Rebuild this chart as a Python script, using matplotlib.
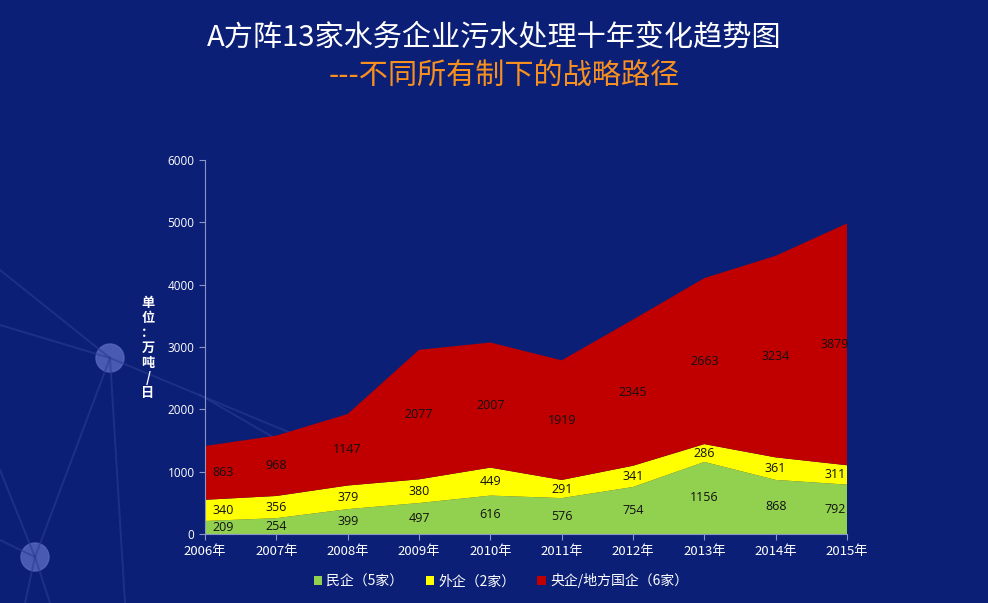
import matplotlib
matplotlib.use("Agg")
import matplotlib.pyplot as plt
from matplotlib.patches import Circle, Patch
import numpy as np

plt.rcParams['font.family'] = ['Noto Sans CJK SC', 'DejaVu Sans']

years = ['2006年', '2007年', '2008年', '2009年', '2010年', '2011年', '2012年', '2013年', '2014年', '2015年']
private = [209, 254, 399, 497, 616, 576, 754, 1156, 868, 792]
foreign = [340, 356, 379, 380, 449, 291, 341, 286, 361, 311]
state = [863, 968, 1147, 2077, 2007, 1919, 2345, 2663, 3234, 3879]
series_names = ['民企（5家）', '外企（2家）', '央企/地方国企（6家）']
colors = ['#92d050', '#ffff00', '#c00000']
bg = '#0c1f76'

W, H = 988, 603
fig = plt.figure(figsize=(W / 100, H / 100), dpi=100, facecolor=bg)

# decorative background network
deco = fig.add_axes([0, 0, 1, 1], zorder=-5)
deco.set_xlim(0, W); deco.set_ylim(H, 0); deco.axis('off')
lc = '#2a3d96'
segs = [((0, 270), (110, 358)), ((0, 325), (110, 358)), ((110, 358), (380, 470)),
        ((110, 358), (35, 557)), ((110, 358), (125, 603)), ((0, 470), (35, 557)),
        ((0, 540), (35, 557)), ((35, 557), (25, 603)), ((35, 557), (50, 603)),
        ((200, 395), (330, 470))]
for (x0, y0), (x1, y1) in segs:
    deco.plot([x0, x1], [y0, y1], color=lc, lw=1.4, alpha=0.6)
for cx, cy in [(110, 358), (35, 557)]:
    deco.add_patch(Circle((cx, cy), 14, color='#5566bb', alpha=0.85))

ax = fig.add_axes([205 / W, 1 - 534 / H, (847 - 205) / W, (534 - 160) / H])
ax.set_facecolor('none')
x = np.arange(len(years))
ax.stackplot(x, private, foreign, state, colors=colors, linewidth=0)
ax.set_xlim(0, len(years) - 1)
ax.set_ylim(0, 6000)
ax.set_yticks(range(0, 6001, 1000))
ax.set_xticks(x)
ax.set_xticklabels(years)
ax.tick_params(colors='#8a96c8', labelcolor='white', labelsize=9.5, length=4, width=0.8)
ax.tick_params(axis='x', pad=4)
for lab in ax.get_yticklabels():
    lab.set_family(['Open Sans', 'DejaVu Sans'])
    lab.set_fontsize(8.5)
for s in ['top', 'right']:
    ax.spines[s].set_visible(False)
for s in ['left', 'bottom']:
    ax.spines[s].set_color('#8a96c8')
    ax.spines[s].set_linewidth(0.8)

# data labels
base = np.zeros(len(years))
for vals in (private, foreign, state):
    v = np.array(vals, dtype=float)
    for i, val in enumerate(v):
        xi = i
        if i == 0:
            xi = 0.25
        elif i == len(years) - 1:
            xi = len(years) - 1.17
        ax.text(xi, base[i] + val / 2, str(int(val)), ha='center', va='center',
                fontsize=9, color='#111111', family=['Open Sans', 'DejaVu Sans'])
    base += v

# y-axis label stacked vertically
fig.text(148 / W, 1 - 348 / H, '单\n位\n：\n万\n吨\n/\n日', ha='center', va='center',
         color='white', fontsize=9.5, fontweight='bold', linespacing=1.1)

# titles
fig.text(0.5, 1 - 38 / H, 'A方阵13家水务企业污水处理十年变化趋势图', ha='center', va='center',
         color='white', fontsize=21)
fig.text(0.51, 1 - 77 / H, '---不同所有制下的战略路径', ha='center', va='center',
         color='#f7901e', fontsize=21)

handles = [Patch(facecolor=c, edgecolor='none') for c in colors]
leg = fig.legend(handles, series_names, loc='center', bbox_to_anchor=(0.507, 1 - 581 / H),
                 ncol=3, frameon=False, fontsize=10, handlelength=0.6, handleheight=0.6,
                 columnspacing=1.6, handletextpad=0.3)
for t in leg.get_texts():
    t.set_color('white')

fig.savefig('out.png', dpi=100, facecolor=bg)
